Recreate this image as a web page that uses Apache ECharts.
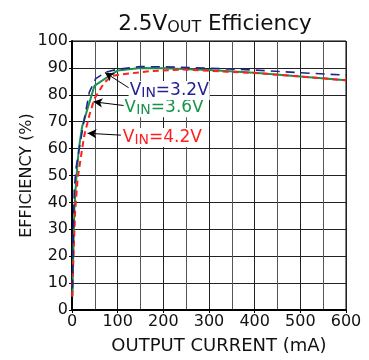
<!DOCTYPE html>
<html>
<head>
<meta charset="utf-8">
<script src="https://cdn.jsdelivr.net/npm/echarts@6/dist/echarts.min.js"></script>
<style>
  html, body { margin: 0; padding: 0; background: #fff; }
  #chart { width: 369px; height: 360px; }
</style>
</head>
<body>
<div id="chart"></div>
<script>
// Efficiency curves, [output current mA, efficiency %]
const vin32 = [[1, 8], [3, 30], [5, 45], [9, 53], [16, 60], [27, 71], [38, 81], [52, 86], [74, 88.4], [100, 89.5], [150, 90.5], [200, 90.4], [300, 89.9], [400, 89.2], [500, 88.2], [600, 87.3]];
const vin36 = [[1, 5], [2, 15], [5, 37], [9, 48], [15, 60], [22, 68], [49, 83.3], [81, 87], [100, 89], [150, 90], [200, 89.9], [300, 89.2], [400, 88.2], [500, 86.8], [600, 85.4]];
const vin42 = [[0.5, 5], [3, 19], [7, 37], [12.5, 49], [20, 57.5], [27, 65], [38, 72.4], [49, 78.5], [71, 84.6], [88, 87], [105, 87.5], [171, 88.8], [243, 89.4], [339, 88.6], [400, 88.1], [500, 86.8], [600, 85.4]];

// Callout text anchors and arrow ends, in data units
const labelPos = { v32: [124, 81.6], v36: [113, 75.2], v42: [109, 64.1] };
const arrows = {
  v32: [[128, 82.2], [72, 88.3]],
  v36: [[114, 76.0], [47, 77.4]],
  v42: [[107, 65.0], [34, 65.7]]
};

const xTicks = { min: 0, max: 600, interval: 100 };
const yTicks = { min: 0, max: 100, interval: 10 };

const FONT = 'DejaVu Sans';
const colors = { v32: '#23238f', v36: '#17954a', v42: '#ff1f1f' };

function callout(key, value) {
  return {
    symbol: 'none',
    animation: false,
    data: [{
      coord: labelPos[key],
      symbol: 'circle',
      symbolSize: 0,
      label: {
        show: true,
        position: 'right',
        distance: 0,
        backgroundColor: '#fff',
        padding: [0, 1, 0, 1],
        formatter: '{m|V}{s|IN}{m|=' + value + '}',
        rich: {
          m: { fontFamily: FONT, fontSize: 17, color: colors[key], lineHeight: 19 },
          s: { fontFamily: FONT, fontSize: 14, color: colors[key], lineHeight: 19, padding: [6, 0, 0, 0] }
        }
      }
    }]
  };
}

function arrow(key) {
  return {
    silent: true,
    animation: false,
    symbol: ['none', 'arrow'],
    symbolSize: [7, 9],
    lineStyle: { color: '#000', width: 1, type: 'solid' },
    label: { show: false },
    data: [[{ coord: arrows[key][0] }, { coord: arrows[key][1] }]]
  };
}

const chart = echarts.init(document.getElementById('chart'), null, { renderer: 'canvas' });
chart.setOption({
  animation: false,
  backgroundColor: '#fff',
  title: {
    text: '{m|2.5V}{s|OUT}{m| Efficiency}',
    left: 210,
    textAlign: 'center',
    top: 7,
    textStyle: {
      fontWeight: 'normal',
      rich: {
        m: { fontFamily: FONT, fontSize: 21.5, fontWeight: 'normal', color: '#111', lineHeight: 24 },
        s: { fontFamily: FONT, fontSize: 16, fontWeight: 'normal', color: '#111', lineHeight: 24, padding: [7, 0, 0, 0] }
      }
    }
  },
  grid: { left: 72, right: 23, top: 41, bottom: 45, show: true, borderColor: '#000', borderWidth: 1 },
  xAxis: {
    type: 'value',
    min: xTicks.min, max: xTicks.max, interval: xTicks.interval,
    name: 'OUTPUT CURRENT (mA)',
    nameLocation: 'middle',
    nameGap: 27,
    nameMoveOverlap: false,
    nameTextStyle: { fontFamily: FONT, fontSize: 18, color: '#111', padding: [0, 0, 0, 20] },
    axisLine: { show: true, lineStyle: { color: '#000', width: 2 } },
    axisTick: { show: true, length: 3, lineStyle: { color: '#000' } },
    axisLabel: { fontFamily: FONT, fontSize: 16, color: '#111', margin: 4 },
    splitLine: { show: true, lineStyle: { color: '#222', width: 1 } },
    minorTick: { show: false, splitNumber: 2 },
    minorSplitLine: { show: true, lineStyle: { color: '#555', width: 1 } }
  },
  yAxis: {
    type: 'value',
    min: yTicks.min, max: yTicks.max, interval: yTicks.interval,
    name: 'EFFICIENCY (%)',
    nameLocation: 'middle',
    nameGap: 37,
    nameMoveOverlap: false,
    nameTextStyle: { fontFamily: FONT, fontSize: 16, color: '#111' },
    axisLine: { show: true, lineStyle: { color: '#000', width: 2 } },
    axisTick: { show: true, length: 3, lineStyle: { color: '#000' } },
    axisLabel: { fontFamily: FONT, fontSize: 16, color: '#111', margin: 4 },
    splitLine: { show: true, lineStyle: { color: '#222', width: 1 } }
  },
  series: [
    {
      name: 'VIN=3.6V', type: 'line', data: vin36, showSymbol: false, smooth: false,
      lineStyle: { color: colors.v36, width: 2 },
      markPoint: callout('v36', '3.6V'),
      markLine: arrow('v36')
    },
    {
      name: 'VIN=4.2V', type: 'line', data: vin42, showSymbol: false, smooth: false,
      lineStyle: { color: colors.v42, width: 2, type: [6, 4] },
      markPoint: callout('v42', '4.2V'),
      markLine: arrow('v42')
    },
    {
      name: 'VIN=3.2V', type: 'line', data: vin32, showSymbol: false, smooth: false,
      lineStyle: { color: colors.v32, width: 1.6, type: [9, 6] },
      markPoint: callout('v32', '3.2V'),
      markLine: arrow('v32')
    }
  ]
});
</script>
</body>
</html>
